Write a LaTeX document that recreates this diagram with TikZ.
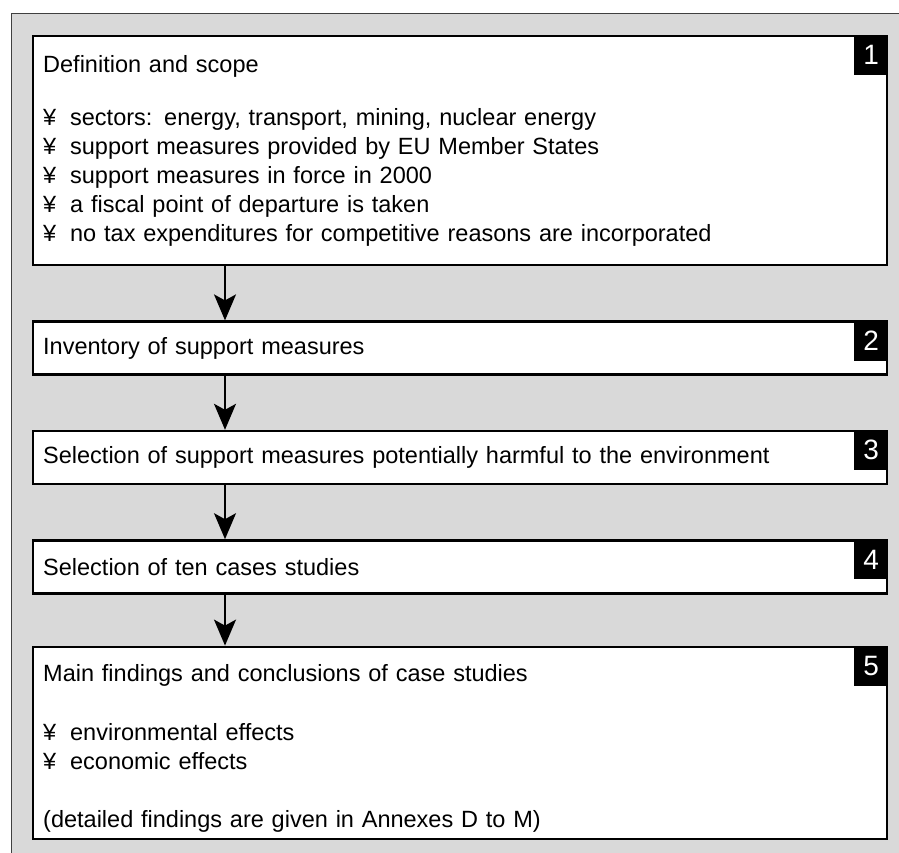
\documentclass[tikz,border=0pt]{standalone}
\usepackage{fontspec}
\setmainfont{Liberation Sans}
\usetikzlibrary{arrows.meta,positioning}
\definecolor{panelgrey}{HTML}{D9D9D9}
\definecolor{edgegrey}{HTML}{404040}
\newcommand{\yenbullet}{\makebox[27pt][l]{¥}}

\begin{document}
\begin{tikzpicture}[x=1pt,y=-1pt,
node distance=54pt,
stage/.style={draw,line width=2.4pt,fill=white,text width=834pt,inner xsep=10pt,
align=left,font=\fontsize{23.5}{29}\selectfont,minimum height=53pt},
num/.style={fill=black,text=white,minimum width=34pt,minimum height=40pt,inner sep=0pt,
font=\fontsize{28}{28}\selectfont,anchor=north east},
arr/.style={-{Stealth[length=26pt,width=22pt,inset=6pt]},line width=1.8pt}
]
\useasboundingbox (0,0) rectangle (899,853);
\clip (0,0) rectangle (899,853);
% grey panel, cut by the page edge
\fill[panelgrey] (11,14) rectangle (910,870);
\draw[edgegrey,line width=1pt] (11,870) -- (11,14) -- (910,14);

\node[stage,anchor=north west,minimum height=229pt] at (32,35) (scope)
{Definition and scope\\[24pt]
\yenbullet sectors: energy, transport, mining, nuclear energy\\
\yenbullet support measures provided by EU Member States\\
\yenbullet support measures in force in 2000\\
\yenbullet a fiscal point of departure is taken\\
\yenbullet no tax expenditures for competitive reasons are incorporated};
\node[stage,below=of scope] (inventory) {Inventory of support measures};
\node[stage,below=of inventory] (harmful)
{Selection of support measures potentially harmful to the environment};
\node[stage,below=of harmful] (cases) {Selection of ten cases studies};
\node[stage,below=51pt of cases,minimum height=192pt] (findings)
{\rule{0pt}{28pt}Main findings and conclusions of case studies\\[30pt]
\yenbullet environmental effects\\
\yenbullet economic effects\\[29pt]
(detailed findings are given in Annexes D to M)};

\node[num] (n1) at (scope.north east) {1};
\node[num] (n2) at (inventory.north east) {2};
\node[num] (n3) at (harmful.north east) {3};
\node[num] (n4) at (cases.north east) {4};
\node[num] (n5) at (findings.north east) {5};

\coordinate (ax) at (225,0);
\draw[arr] (scope.south -| ax)     -- (inventory.north -| ax);
\draw[arr] (inventory.south -| ax) -- (harmful.north -| ax);
\draw[arr] (harmful.south -| ax)   -- (cases.north -| ax);
\draw[arr] (cases.south -| ax)     -- (findings.north -| ax);
\end{tikzpicture}
\end{document}
